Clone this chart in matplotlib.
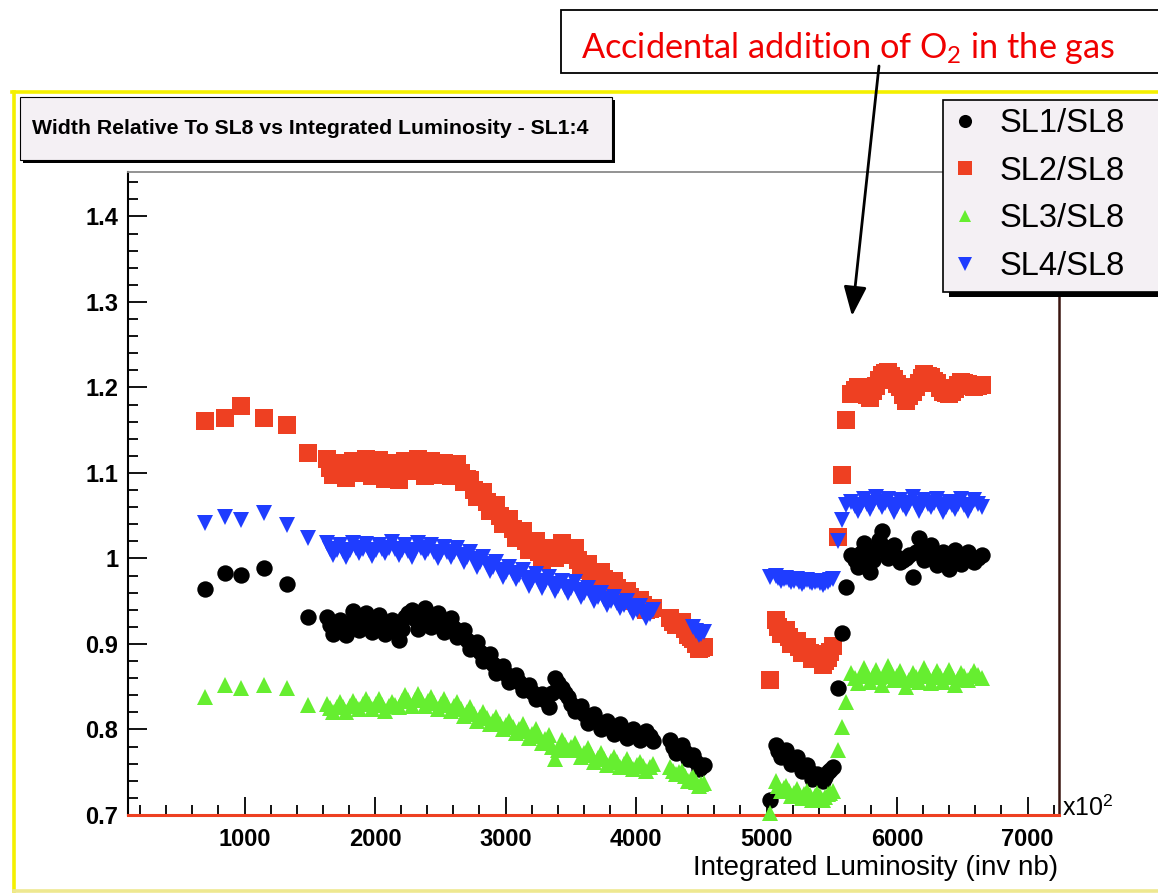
import matplotlib
matplotlib.use("Agg")
import matplotlib.pyplot as plt
import numpy as np
from matplotlib import font_manager
from matplotlib.patches import Rectangle, FancyArrowPatch
from matplotlib.lines import Line2D
from matplotlib.ticker import MultipleLocator

# integrated luminosity (x10^2 inv nb), shared by all four ratios
lumi = [700, 850, 970, 1150, 1325, 1490,
        1630, 1655, 1680, 1705, 1730, 1755, 1780, 1805, 1830, 1855,
        1880, 1905, 1930, 1955, 1980, 2005, 2030, 2055, 2080, 2105,
        2130, 2155, 2180, 2205, 2230, 2255, 2280, 2305, 2330, 2355,
        2380, 2405, 2430, 2455, 2480, 2505, 2530, 2555, 2580, 2605,
        2630, 2655, 2680, 2705, 2730, 2755, 2780, 2805, 2830, 2855,
        2880, 2905, 2930, 2955, 2980, 3005, 3030, 3055, 3080, 3105,
        3130, 3155, 3180, 3205, 3230, 3255, 3280, 3305, 3330, 3355,
        3380, 3405, 3430, 3455, 3480, 3505, 3530, 3555, 3580, 3605,
        3630, 3655, 3680, 3705, 3730, 3755, 3780, 3805, 3830, 3855,
        3880, 3905, 3930, 3955, 3980, 4005, 4030, 4055, 4080, 4105,
        4130,
        4260, 4283, 4305, 4328, 4350, 4373, 4395, 4418, 4440, 4460, 4480, 4500, 4520,
        5030, 5070, 5090, 5110, 5130, 5150, 5170, 5190, 5210, 5230, 5250, 5270,
        5290, 5310, 5330, 5350, 5370, 5390, 5410, 5430, 5450, 5470, 5490, 5510,
        5545, 5580, 5610,
        5650, 5675, 5700, 5722, 5745, 5768, 5790, 5815, 5840, 5862,
        5885, 5908, 5930, 5955, 5980, 6002, 6025, 6048, 6070, 6095,
        6120, 6142, 6165, 6188, 6210, 6235, 6260, 6282, 6305, 6328,
        6350, 6375, 6400, 6422, 6445, 6468, 6490, 6515, 6540, 6565,
        6590, 6620, 6650]

sl1 = [0.964, 0.983, 0.981, 0.989, 0.970, 0.932,
       0.932, 0.922, 0.912, 0.920, 0.928, 0.919, 0.910, 0.924, 0.938, 0.927,
       0.916, 0.926, 0.936, 0.925, 0.914, 0.924, 0.934, 0.923, 0.912, 0.920,
       0.928, 0.916, 0.905, 0.918, 0.932, 0.936, 0.940, 0.929, 0.918, 0.930,
       0.942, 0.931, 0.920, 0.928, 0.936, 0.925, 0.914, 0.922, 0.930, 0.919,
       0.908, 0.912, 0.916, 0.905, 0.894, 0.898, 0.902, 0.891, 0.880, 0.884,
       0.888, 0.877, 0.866, 0.870, 0.874, 0.865, 0.856, 0.860, 0.864, 0.855,
       0.846, 0.849, 0.852, 0.844, 0.836, 0.839, 0.842, 0.834, 0.826, 0.843,
       0.860, 0.854, 0.848, 0.843, 0.838, 0.830, 0.822, 0.825, 0.828, 0.818,
       0.808, 0.813, 0.818, 0.809, 0.800, 0.805, 0.810, 0.802, 0.795, 0.800,
       0.806, 0.798, 0.790, 0.795, 0.800, 0.794, 0.788, 0.793, 0.798, 0.792,
       0.786,
       0.788, 0.780, 0.772, 0.777, 0.782, 0.774, 0.766, 0.768, 0.770, 0.762, 0.754, 0.756, 0.758,
       0.718, 0.782, 0.775, 0.768, 0.772, 0.776, 0.768, 0.760, 0.764, 0.768, 0.760, 0.752,
       0.755, 0.758, 0.750, 0.742, 0.745, 0.748, 0.744, 0.740, 0.745, 0.750, 0.753, 0.756,
       0.849, 0.913, 0.967,
       1.004, 0.998, 0.990, 1.006, 1.018, 1.000, 0.984, 0.998, 1.010, 1.022,
       1.032, 1.014, 1.000, 1.008, 1.016, 1.002, 0.996, 0.998, 1.000, 1.004,
       0.978, 1.008, 1.024, 1.010, 0.998, 1.008, 1.016, 1.004, 0.992, 1.000,
       1.008, 0.998, 0.988, 0.998, 1.010, 1.002, 0.994, 1.000, 1.008, 1.002,
       0.996, 1.000, 1.004]

sl2 = [1.161, 1.164, 1.178, 1.164, 1.156, 1.123,
       1.116, 1.106, 1.098, 1.104, 1.112, 1.103, 1.094, 1.105, 1.114, 1.108,
       1.100, 1.107, 1.116, 1.105, 1.096, 1.106, 1.115, 1.104, 1.093, 1.102,
       1.112, 1.101, 1.092, 1.104, 1.114, 1.107, 1.102, 1.110, 1.116, 1.105,
       1.096, 1.106, 1.114, 1.105, 1.098, 1.104, 1.112, 1.103, 1.096, 1.104,
       1.110, 1.100, 1.090, 1.093, 1.092, 1.080, 1.072, 1.076, 1.078, 1.066,
       1.056, 1.060, 1.062, 1.050, 1.040, 1.044, 1.046, 1.034, 1.024, 1.028,
       1.032, 1.020, 1.010, 1.016, 1.020, 1.008, 0.998, 1.006, 1.012, 1.006,
       1.000, 1.010, 1.018, 1.010, 1.004, 1.010, 1.012, 0.998, 0.986, 0.990,
       0.994, 0.982, 0.972, 0.978, 0.984, 0.976, 0.970, 0.972, 0.974, 0.966,
       0.960, 0.961, 0.962, 0.955, 0.950, 0.951, 0.952, 0.946, 0.940, 0.941,
       0.942,
       0.930, 0.926, 0.922, 0.924, 0.926, 0.918, 0.910, 0.908, 0.906, 0.900, 0.894, 0.895, 0.896,
       0.858, 0.928, 0.920, 0.912, 0.914, 0.916, 0.908, 0.900, 0.902, 0.904, 0.897, 0.890,
       0.893, 0.896, 0.889, 0.882, 0.885, 0.888, 0.882, 0.876, 0.880, 0.884, 0.891, 0.898,
       1.025, 1.098, 1.162,
       1.192, 1.197, 1.200, 1.199, 1.196, 1.191, 1.188, 1.196, 1.202, 1.209,
       1.215, 1.217, 1.218, 1.213, 1.210, 1.204, 1.200, 1.191, 1.184, 1.190,
       1.195, 1.200, 1.205, 1.211, 1.216, 1.214, 1.212, 1.208, 1.205, 1.199,
       1.195, 1.193, 1.192, 1.195, 1.198, 1.203, 1.206, 1.205, 1.204, 1.202,
       1.200, 1.202, 1.203]

sl3 = [0.838, 0.852, 0.849, 0.852, 0.848, 0.829,
       0.830, 0.825, 0.820, 0.826, 0.832, 0.826, 0.821, 0.827, 0.833, 0.828,
       0.824, 0.830, 0.836, 0.830, 0.824, 0.830, 0.836, 0.829, 0.822, 0.827,
       0.832, 0.829, 0.826, 0.833, 0.840, 0.834, 0.828, 0.835, 0.842, 0.835,
       0.828, 0.833, 0.838, 0.831, 0.824, 0.830, 0.836, 0.829, 0.822, 0.827,
       0.832, 0.824, 0.816, 0.821, 0.826, 0.818, 0.810, 0.815, 0.820, 0.813,
       0.806, 0.810, 0.815, 0.807, 0.800, 0.805, 0.810, 0.803, 0.796, 0.801,
       0.806, 0.798, 0.790, 0.795, 0.800, 0.792, 0.784, 0.789, 0.794, 0.780,
       0.765, 0.776, 0.788, 0.782, 0.776, 0.780, 0.784, 0.776, 0.768, 0.773,
       0.778, 0.770, 0.762, 0.767, 0.772, 0.765, 0.758, 0.763, 0.768, 0.762,
       0.756, 0.760, 0.765, 0.759, 0.754, 0.758, 0.762, 0.757, 0.752, 0.756,
       0.760,
       0.756, 0.752, 0.748, 0.750, 0.752, 0.746, 0.740, 0.742, 0.744, 0.739, 0.734, 0.736, 0.738,
       0.702, 0.740, 0.734, 0.728, 0.731, 0.734, 0.728, 0.722, 0.726, 0.730, 0.725, 0.720,
       0.724, 0.728, 0.723, 0.718, 0.722, 0.726, 0.722, 0.718, 0.721, 0.724, 0.726, 0.728,
       0.776, 0.803, 0.832,
       0.866, 0.860, 0.854, 0.863, 0.872, 0.864, 0.856, 0.863, 0.870, 0.861,
       0.852, 0.863, 0.874, 0.866, 0.858, 0.863, 0.868, 0.859, 0.850, 0.858,
       0.866, 0.861, 0.856, 0.864, 0.872, 0.863, 0.854, 0.861, 0.868, 0.862,
       0.856, 0.863, 0.870, 0.861, 0.852, 0.859, 0.866, 0.862, 0.858, 0.863,
       0.868, 0.864, 0.860]

sl4 = [1.041, 1.049, 1.045, 1.053, 1.039, 1.024,
       1.018, 1.011, 1.004, 1.010, 1.016, 1.009, 1.002, 1.010, 1.018, 1.012,
       1.006, 1.011, 1.017, 1.010, 1.003, 1.010, 1.016, 1.011, 1.006, 1.012,
       1.019, 1.011, 1.004, 1.010, 1.016, 1.009, 1.002, 1.010, 1.018, 1.012,
       1.006, 1.011, 1.016, 1.008, 1.000, 1.007, 1.014, 1.008, 1.002, 1.007,
       1.012, 1.004, 0.996, 1.002, 1.008, 0.999, 0.990, 0.996, 1.002, 0.993,
       0.985, 0.990, 0.996, 0.987, 0.978, 0.984, 0.990, 0.983, 0.976, 0.981,
       0.986, 0.977, 0.968, 0.975, 0.982, 0.974, 0.966, 0.972, 0.978, 0.970,
       0.962, 0.968, 0.974, 0.967, 0.960, 0.966, 0.972, 0.963, 0.955, 0.960,
       0.966, 0.958, 0.950, 0.955, 0.960, 0.953, 0.946, 0.950, 0.955, 0.948,
       0.942, 0.946, 0.950, 0.943, 0.936, 0.940, 0.945, 0.937, 0.930, 0.935,
       0.940,
       None, None, None, None, None, None, None, None, 0.920, 0.915, 0.910, 0.912, 0.914,
       0.978, 0.980, 0.977, 0.974, 0.976, 0.977, 0.975, 0.972, 0.974, 0.976, 0.973, 0.970,
       0.972, 0.975, 0.973, 0.971, 0.972, 0.974, 0.971, 0.969, 0.971, 0.973, 0.975, 0.976,
       1.020, 1.045, 1.062,
       1.066, 1.061, 1.056, 1.063, 1.070, 1.064, 1.058, 1.065, 1.072, 1.066,
       1.060, 1.065, 1.070, 1.062, 1.054, 1.061, 1.068, 1.063, 1.058, 1.065,
       1.072, 1.064, 1.056, 1.062, 1.068, 1.064, 1.060, 1.065, 1.070, 1.062,
       1.054, 1.060, 1.066, 1.062, 1.058, 1.064, 1.070, 1.063, 1.056, 1.062,
       1.068, 1.064, 1.060]

labels = ["SL1/SL8", "SL2/SL8", "SL3/SL8", "SL4/SL8"]

W, H = 1158, 893


def fx(px):
    return px / W


def fy(py):
    return 1 - py / H


names = {f.name for f in font_manager.fontManager.ttflist}
narrow = "Liberation Sans Narrow" if "Liberation Sans Narrow" in names else "Liberation Sans"

plt.rcParams["mathtext.fontset"] = "custom"
plt.rcParams["mathtext.rm"] = "Lato"
plt.rcParams["mathtext.it"] = "Lato:italic"
plt.rcParams["mathtext.bf"] = "Lato:bold"
plt.rcParams["mathtext.sf"] = narrow

fig = plt.figure(figsize=(W / 100, H / 100), dpi=100)
fig.patch.set_facecolor("white")

ax = fig.add_axes([fx(128), fy(815), fx(1059) - fx(128), fy(172) - fy(815)])

x = np.array(lumi, dtype=float)
y1 = np.array(sl1, dtype=float)
y2 = np.array(sl2, dtype=float)
y3 = np.array(sl3, dtype=float)
y4 = np.array(sl4, dtype=float)

kw = dict(ls="none", mew=0, clip_on=False)
h2, = ax.plot(x, y2, marker="s", ms=12.3, color="#ee4022", zorder=2, **kw)
h1, = ax.plot(x, y1, marker="o", ms=11.8, color="black", zorder=3, **kw)
h3, = ax.plot(x, y3, marker="^", ms=11.5, color="#66ee30", zorder=4, **kw)
h4, = ax.plot(x, y4, marker="v", ms=12.0, color="#1f3dff", zorder=5, **kw)

ax.set_xlim(107, 7241)
ax.set_ylim(0.7, 1.452)

ax.xaxis.set_major_locator(MultipleLocator(1000))
ax.xaxis.set_minor_locator(MultipleLocator(200))
ax.yaxis.set_major_locator(MultipleLocator(0.1))
ax.yaxis.set_minor_locator(MultipleLocator(0.02))
ax.tick_params(which="both", direction="in", top=False, right=False, color="black", width=1.3)
ax.tick_params(axis="x", which="major", length=13, pad=9)
ax.tick_params(axis="x", which="minor", length=7)
ax.tick_params(axis="y", which="major", length=14, pad=7)
ax.tick_params(axis="y", which="minor", length=7)

ax.set_xticks([1000, 2000, 3000, 4000, 5000, 6000, 7000])
ax.set_xticklabels(["1000", "2000", "3000", "4000", "5000", "6000", "7000"])
ax.set_yticks([0.7, 0.8, 0.9, 1.0, 1.1, 1.2, 1.3, 1.4])
ax.set_yticklabels(["0.7", "0.8", "0.9", "1", "1.1", "1.2", "1.3", "1.4"])
for lab in ax.get_xticklabels() + ax.get_yticklabels():
    lab.set_fontfamily(narrow)
    lab.set_fontweight("bold")
    lab.set_fontsize(17)

ax.spines["bottom"].set_color("#ee4022")
ax.spines["bottom"].set_linewidth(2.2)
ax.spines["left"].set_color("black")
ax.spines["left"].set_linewidth(1.5)
ax.spines["top"].set_color("#8a8a8a")
ax.spines["top"].set_linewidth(1.3)
ax.spines["right"].set_color("#3a1510")
ax.spines["right"].set_linewidth(1.8)

fig.text(fx(1062), fy(816), "x10$^{\\mathsf{2}}$", fontsize=18, family=narrow,
         ha="left", va="baseline")
fig.text(fx(1058), fy(875), "Integrated Luminosity (inv nb)", fontsize=20, family=narrow,
         ha="right", va="baseline")

# outer yellow frame
for xs, ys, c in [((12, 1158), (92, 92), "#f4f000"),
                  ((14, 14), (92, 891), "#f4f000"),
                  ((14, 1158), (891, 891), "#eee890")]:
    fig.add_artist(Line2D([fx(v) for v in xs], [fy(v) for v in ys], color=c, lw=2.6,
                          transform=fig.transFigure, zorder=1))

# title box with shadow
fig.add_artist(Rectangle((fx(23), fy(163)), (612 - 20) / W, (160 - 97) / H, transform=fig.transFigure,
                         facecolor="black", edgecolor="none", zorder=1))
fig.add_artist(Rectangle((fx(20), fy(160)), (612 - 20) / W, (160 - 97) / H, transform=fig.transFigure,
                         facecolor="#f4f0f4", edgecolor="black", lw=0.8, zorder=1.1))
fig.text(fx(32), fy(129), "Width Relative To SL8 vs Integrated Luminosity - SL1:4",
         fontsize=15.3, fontweight="bold", family="Liberation Sans", ha="left", va="center")

# legend box with shadow
fig.add_artist(Rectangle((fx(949), fy(297)), (1180 - 943) / W, (292 - 100) / H, transform=fig.transFigure,
                         facecolor="black", edgecolor="none", zorder=1))
fig.add_artist(Rectangle((fx(943), fy(292)), (1180 - 943) / W, (292 - 100) / H, transform=fig.transFigure,
                         facecolor="#f4f0f4", edgecolor="black", lw=1.2, zorder=1.1))
fig.legend(handles=[h1, h2, h3, h4], labels=labels, loc="upper left",
           bbox_to_anchor=(fx(952), fy(108)), bbox_transform=fig.transFigure,
           frameon=False, borderpad=0, borderaxespad=0, handlelength=0.8,
           handletextpad=0.65, labelspacing=0.51, markerscale=0.8,
           prop={"family": "Liberation Sans", "size": 23.5})

# annotation box and arrow
fig.add_artist(Rectangle((fx(561), fy(73)), (1180 - 561) / W, (73 - 10) / H, transform=fig.transFigure,
                         facecolor="white", edgecolor="black", lw=1.3, zorder=1.2))
fig.text(fx(581), fy(58), "Accidental addition of O$_{2}$ in the gas", color="#f00000",
         fontsize=24.7, family="Lato", ha="left", va="baseline", zorder=3)
fig.add_artist(FancyArrowPatch((fx(879), fy(66)), (fx(852), fy(316)), transform=fig.transFigure,
                               arrowstyle="-|>,head_length=0.9,head_width=0.35", mutation_scale=20,
                               lw=2, color="black", shrinkA=0, shrinkB=0, zorder=6))

fig.savefig("out.png", dpi=100)
